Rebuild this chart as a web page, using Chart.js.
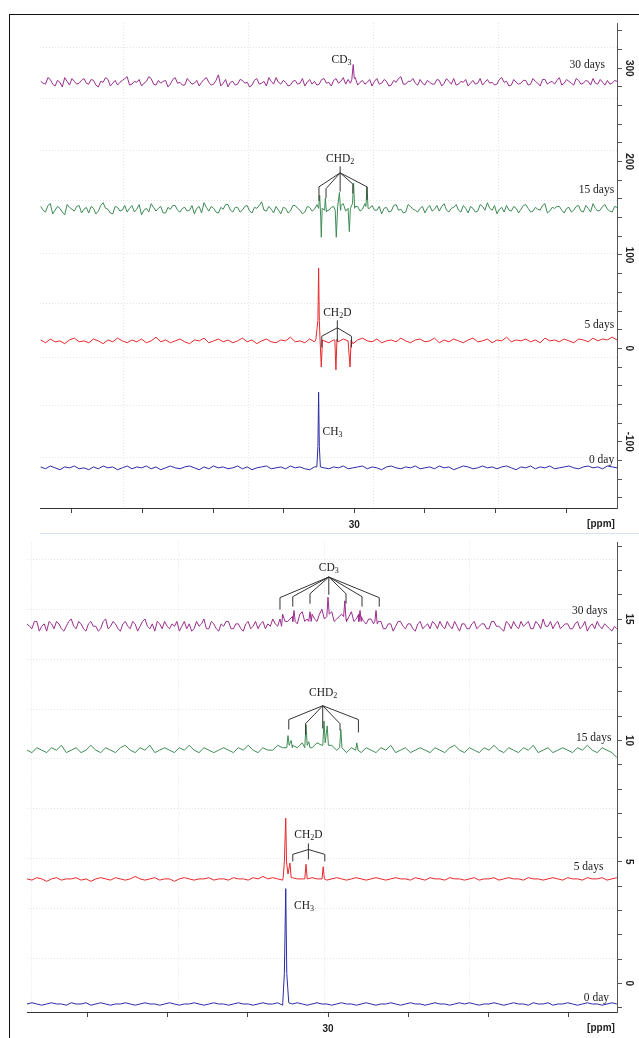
<!DOCTYPE html>
<html lang="en">
<head>
<meta charset="UTF-8" />
<title>13C NMR methyl deuteration</title>
<script src="https://cdn.jsdelivr.net/npm/chart.js"></script>
<style>
  body { margin: 0; background: #fff; }
  #wrap { position: relative; width: 639px; height: 1038px; overflow: hidden; }
  #frame { position: absolute; left: 9px; top: 14px; width: 640px; height: 1030px; border-left: 1.5px solid #111; border-top: 1.5px solid #111; }
  #sep { position: absolute; left: 40px; right: 0; top: 533px; height: 1px; background: #d6e4f2; }
  canvas { position: absolute; left: 0; }
</style>
</head>
<body>
<div id="wrap">
  <div id="frame"></div>
  <div id="sep"></div>
  <canvas id="top" width="639" height="535" style="top:0"></canvas>
  <canvas id="bottom" width="639" height="503" style="top:535px"></canvas>
</div>
<script>
// sampling grid (ppm) of each panel
const TOP_START = 34.44, TOP_STEP = 0.068;
const BOT_START = 33.76, BOT_STEP = 0.0614;

// tick positions
const topXTicks = [27, 28, 29, 30, 31, 32, 33, 34];
const topYTicks = [-160,-140,-120,-100,-80,-60,-40,-20,0,20,40,60,80,100,120,140,160,180,200,220,240,260,280,300,320,340];
const botXTicks = [27, 28, 29, 30, 31, 32, 33];
const botYTicks = [-1,0,1,2,3,4,5,6,7,8,9,10,11,12,13,14,15,16,17,18];

// ---- top panel: baseline noise ----
const topPurple = [
  286,283,288,281,285,290,282,286,284,289,
  283,287,280,285,288,284,282,287,291,283,
  285,281,286,289,282,284,287,283,290,285,
  282,286,284,281,288,285,283,293,284,280,
  286,283,287,285,282,289,284,281,286,290,
  283,285,282,287,284,281,288,286,283,289,
  285,287,284,290,288,286,282,287,285,281,
  289,284,286,282,285,291,283,286,284,288,
  282,285,283,287,284,286,289,283,285,281,
  287,284,282,288,285,283,290,286,282,285,
  284,287,283,286,281,288,285,283,290,284,
  286,282,287,284,286,289,283,285,287,284,
  286];
// half-step samples between the points above
const topPurpleMid = [
  284,290,283,287,280,286,289,283,287,284,
  288,282,286,290,281,287,285,289,282,286,
  288,284,291,283,287,286,280,288,284,282,
  289,283,287,285,290,282,287,281,288,285,
  282,288,284,280,287,283,286,290,283,285,
  287,281,286,283,289,285,283,282,288,284,
  281,289,286,283,284,290,285,283,288,286,
  283,288,281,287,289,283,286,289,282,284,
  287,283,288,281,289,283,282,286,288,284,
  283,289,285,284,282,288,285,281,288,283,
  287,282,289,284,288,283,286,287,282,288,
  284,289,283,287,282,284,288,282,283,287];
const topGreen = [
  152,146,155,148,150,143,151,147,153,149,
  145,150,147,156,149,144,151,148,146,153,
  149,143,150,155,147,152,145,149,153,146,
  151,148,144,152,156,147,150,145,149,154,
  146,151,148,153,145,150,157,147,149,152,
  144,150,147,153,148,146,151,149,145,150,
  148,152,146,155,150,147,152,149,146,153,
  148,144,151,147,154,149,146,152,148,150,
  145,153,149,147,155,146,151,148,153,145,
  150,147,152,156,148,144,151,153,147,150,
  149,154,146,151,148,155,147,150,152,145,
  151,148,153,146,150,155,147,152,149,146,
  151];
const topGreenMid = [
  148,153,144,152,146,154,149,152,145,151,
  152,144,153,150,145,152,147,153,150,146,
  154,148,146,151,150,145,151,153,148,150,
  147,153,150,145,151,152,146,151,154,148,
  151,146,152,147,151,153,148,152,145,148,
  151,145,153,150,144,152,147,154,150,147,
  151,145,153,147,146,152,147,155,150,148,
  152,150,146,153,148,145,154,149,146,152,
  150,147,153,152,148,150,154,146,150,152,
  146,154,148,150,153,149,146,148,152,145,
  153,150,147,149,153,145,151,152,148,150,
  146,152,147,153,146,150,148,154,147,152];
const topRed = [
  9,6,10,7,8,5,9,11,7,8,
  6,10,8,5,9,7,11,8,6,9,
  7,10,6,8,12,7,9,6,8,10,
  7,5,9,8,11,6,8,10,7,9,
  6,8,11,7,9,5,8,10,7,6,
  9,8,12,7,8,6,10,7,9,8,
  6,9,7,10,8,5,9,11,8,7,
  10,6,8,9,7,11,8,6,9,10,
  7,8,11,6,9,7,10,8,6,9,
  11,7,8,10,6,9,8,12,7,9,
  8,10,7,9,6,11,8,9,7,10,
  8,6,10,9,7,11,8,10,9,12,
  9];
const topBlue = [
  -127,-129,-126,-128,-130,-127,-128,-126,-129,-128,
  -130,-127,-129,-126,-128,-127,-130,-128,-126,-129,
  -127,-128,-126,-129,-127,-130,-128,-126,-128,-129,
  -127,-126,-128,-130,-127,-129,-126,-128,-127,-129,
  -128,-126,-129,-127,-130,-128,-127,-126,-129,-128,
  -127,-129,-126,-128,-127,-129,-130,-127,-126,-128,
  -129,-127,-128,-126,-129,-128,-127,-126,-129,-127,
  -128,-130,-127,-126,-128,-129,-127,-128,-126,-129,
  -128,-127,-129,-126,-128,-127,-130,-128,-126,-127,
  -129,-128,-126,-128,-127,-129,-127,-126,-128,-130,
  -127,-128,-126,-129,-127,-128,-126,-129,-128,-127,
  -126,-128,-129,-127,-126,-128,-127,-129,-126,-127,
  -128];

// peaks [ppm, intensity]
const topPurplePeaks = [[[30.035,288],[30.015,304],[30.0,289]]];
const topGreenPeaks = [
  [[30.505,150],[30.49,164],[30.475,140],[30.467,119],[30.455,150],[30.42,148],[30.41,161],[30.395,146]],
  [[30.27,148],[30.255,119],[30.235,152],[30.21,167],[30.195,148]],
  [[30.085,150],[30.07,125],[30.055,150],[30.025,155],[30.01,177],[29.995,150]],
  [[29.835,152],[29.82,173],[29.805,150]]];
const topRedPeaks = [
  [[30.545,9],[30.515,30],[30.505,86],[30.495,30],[30.485,10],[30.467,-20],[30.45,9]],
  [[30.275,9],[30.26,-23],[30.245,10]],
  [[30.075,8],[30.06,-20],[30.045,9]]];
const topBluePeaks = [[[30.53,-127],[30.515,-105],[30.505,-47],[30.495,-105],[30.48,-127]]];

// ---- bottom panel ----
const botPurple = [
  14.8,14.6,14.9,14.7,14.5,14.8,14.9,14.6,14.7,15.0,
  14.6,14.8,14.5,14.9,14.7,14.6,15.0,14.7,14.8,14.5,
  14.9,14.6,14.8,14.7,15.0,14.6,14.5,14.8,14.9,14.6,
  14.7,14.5,14.9,14.8,14.6,14.7,15.0,14.6,14.8,14.5,
  14.7,14.9,14.6,14.8,14.5,14.9,14.7,14.6,14.9,14.8,
  15.0,14.7,15.2,14.9,15.1,14.8,15.3,15.0,15.2,14.9,
  15.4,15.1,15.3,15.0,15.2,14.9,15.3,15.0,15.1,14.8,
  15.0,14.7,14.9,14.6,14.8,14.7,14.9,14.6,14.8,14.5,
  14.9,14.7,14.6,14.8,14.9,14.6,14.7,14.9,14.5,14.8,
  14.6,14.9,14.7,14.8,14.6,14.9,14.7,14.5,14.8,14.9,
  14.6,14.7,14.9,14.6,14.8,15.0,14.7,14.6,14.9,14.7,
  14.8,14.6,14.9,14.7,14.5,14.8,14.9,14.6,14.7,14.5,
  14.6];
const botPurpleMid = [
  14.7,14.9,14.5,14.8,14.9,14.6,14.8,14.5,14.9,14.7,
  14.9,14.6,14.8,14.7,14.5,14.9,14.6,14.9,14.6,14.8,
  14.7,14.9,14.5,14.9,14.7,14.8,14.9,14.6,14.7,14.8,
  14.9,14.7,14.6,14.5,14.9,14.8,14.6,14.9,14.6,14.8,
  14.9,14.6,14.8,14.6,14.8,14.6,14.9,14.8,14.6,14.7,
  14.8,15.1,14.9,15.0,14.8,15.2,14.9,15.1,15.0,15.2,
  15.0,15.2,14.9,15.1,14.8,15.1,14.9,15.2,14.9,15.0,
  14.8,14.9,14.6,14.8,14.5,14.9,14.7,14.8,14.6,14.8,
  14.6,14.8,14.9,14.6,14.7,14.9,14.6,14.7,14.8,14.6,
  14.8,14.6,14.8,14.6,14.9,14.7,14.6,14.9,14.6,14.7,
  14.9,14.8,14.6,14.9,14.6,14.7,14.9,14.8,14.6,14.8,
  14.6,14.8,14.6,14.9,14.7,14.6,14.7,14.8,14.6,14.7];
const botGreen = [
  9.6,9.5,9.7,9.6,9.5,9.7,9.6,9.8,9.5,9.6,
  9.7,9.5,9.6,9.8,9.6,9.5,9.7,9.6,9.5,9.7,
  9.8,9.6,9.5,9.7,9.6,9.8,9.5,9.6,9.7,9.6,
  9.5,9.7,9.6,9.8,9.6,9.5,9.7,9.6,9.5,9.6,
  9.7,9.6,9.5,9.7,9.6,9.8,9.6,9.5,9.7,9.6,
  9.6,9.8,9.7,9.9,9.8,9.7,9.9,9.8,9.7,9.9,
  9.8,9.7,9.8,9.6,9.7,9.5,9.7,9.6,9.5,9.7,
  9.6,9.5,9.7,9.6,9.8,9.5,9.6,9.7,9.5,9.6,
  9.7,9.6,9.5,9.7,9.6,9.5,9.7,9.8,9.6,9.5,
  9.7,9.6,9.5,9.7,9.6,9.8,9.6,9.5,9.7,9.6,
  9.5,9.7,9.6,9.8,9.5,9.6,9.7,9.5,9.6,9.7,
  9.6,9.5,9.7,9.6,9.8,9.6,9.5,9.7,9.6,9.5,
  9.3];
const botRed = [
  4.3,4.25,4.35,4.3,4.2,4.3,4.35,4.25,4.3,4.3,
  4.35,4.25,4.3,4.2,4.3,4.35,4.3,4.25,4.35,4.3,
  4.25,4.3,4.4,4.3,4.25,4.3,4.35,4.25,4.3,4.3,
  4.2,4.3,4.35,4.3,4.25,4.3,4.3,4.35,4.25,4.3,
  4.3,4.25,4.35,4.3,4.3,4.25,4.35,4.3,4.4,4.3,
  4.35,4.3,4.25,4.3,4.35,4.3,4.3,4.25,4.35,4.3,
  4.3,4.25,4.3,4.35,4.3,4.25,4.3,4.35,4.3,4.25,
  4.3,4.35,4.3,4.25,4.3,4.35,4.3,4.3,4.25,4.35,
  4.3,4.25,4.35,4.3,4.3,4.25,4.35,4.3,4.3,4.25,
  4.3,4.35,4.25,4.3,4.3,4.35,4.25,4.3,4.35,4.3,
  4.3,4.25,4.35,4.3,4.3,4.25,4.3,4.35,4.3,4.25,
  4.35,4.3,4.3,4.25,4.35,4.3,4.3,4.35,4.25,4.3,
  4.35];
const botBlue = [
  -0.85,-0.8,-0.85,-0.9,-0.85,-0.8,-0.85,-0.85,-0.9,-0.8,
  -0.85,-0.85,-0.8,-0.9,-0.85,-0.8,-0.85,-0.9,-0.85,-0.85,
  -0.8,-0.85,-0.9,-0.85,-0.8,-0.85,-0.85,-0.9,-0.85,-0.8,
  -0.85,-0.9,-0.85,-0.85,-0.8,-0.85,-0.9,-0.85,-0.8,-0.85,
  -0.85,-0.9,-0.85,-0.8,-0.85,-0.85,-0.9,-0.85,-0.8,-0.85,
  -0.85,-0.8,-0.9,-0.85,-0.85,-0.8,-0.85,-0.9,-0.85,-0.8,
  -0.85,-0.85,-0.9,-0.85,-0.8,-0.85,-0.85,-0.9,-0.85,-0.8,
  -0.85,-0.9,-0.85,-0.85,-0.8,-0.85,-0.9,-0.85,-0.8,-0.85,
  -0.85,-0.9,-0.85,-0.8,-0.85,-0.85,-0.9,-0.85,-0.8,-0.85,
  -0.8,-0.85,-0.9,-0.85,-0.85,-0.8,-0.85,-0.9,-0.85,-0.8,
  -0.85,-0.85,-0.9,-0.8,-0.85,-0.85,-0.8,-0.9,-0.85,-0.85,
  -0.8,-0.85,-0.9,-0.85,-0.8,-0.85,-0.85,-0.9,-0.85,-0.8,
  -0.85];

const botPurplePeaks = [
  [[30.62,14.8],[30.6,15.0],[30.58,14.7]],
  [[30.44,14.9],[30.425,15.35],[30.41,14.9]],
  [[30.24,14.9],[30.225,15.3],[30.21,14.9]],
  [[30.015,15.1],[30.0,15.9],[29.985,15.2]],
  [[29.805,15.1],[29.79,15.75],[29.775,15.0]],
  [[29.615,14.9],[29.6,15.35],[29.585,14.9]],
  [[29.415,14.9],[29.4,15.35],[29.385,14.8]]];
const botGreenPeaks = [
  [[30.515,9.7],[30.5,10.2],[30.485,9.8],[30.46,10.0],[30.445,9.7]],
  [[30.29,9.7],[30.275,10.65],[30.26,9.8],[30.24,9.95],[30.225,9.7]],
  [[30.065,9.8],[30.05,10.8],[30.035,9.9],[30.01,10.6],[29.995,9.8]],
  [[29.855,9.7],[29.84,10.45],[29.825,9.7]],
  [[29.655,9.6],[29.64,9.9],[29.625,9.6]]];
const botRedPeaks = [
  [[30.56,4.35],[30.545,5.0],[30.528,6.8],[30.518,5.0],[30.5,4.5],[30.475,4.95],[30.46,4.35]],
  [[30.29,4.3],[30.275,4.9],[30.26,4.3]],
  [[30.075,4.3],[30.06,4.8],[30.045,4.3]]];
const botBluePeaks = [[[30.565,-0.8],[30.545,0.4],[30.528,3.9],[30.515,0.4],[30.49,-0.8]]];

// labels [text, ppm, intensity, align]  ("_x" = subscript)
const topLabels = [
  ['30 days', 26.45, 303.5, 'right'], ['15 days', 26.32, 169.5, 'right'],
  ['5 days', 26.32, 25, 'right'], ['0 day', 26.32, -120, 'right'],
  ['CD_3', 30.18, 309, 'center'], ['CHD_2', 30.2, 203, 'center'],
  ['CH_2D', 30.24, 38, 'center'], ['CH_3', 30.45, -90, 'left']];
const topBrackets = [
  [[30.2,195],[30.2,168]],
  [[30.2,188],[30.5,173],[30.5,158]], [[30.2,188],[30.4,171],[30.4,161]],
  [[30.2,188],[30.02,176],[30.02,166]], [[30.2,188],[29.82,173],[29.82,159]],
  [[30.24,30],[30.24,7]],
  [[30.24,22],[30.46,13],[30.46,1]], [[30.24,22],[30.04,13],[30.04,1]]];

const botLabels = [
  ['30 days', 26.51, 15.35, 'right'], ['15 days', 26.46, 10.1, 'right'],
  ['5 days', 26.56, 4.8, 'right'], ['0 day', 26.49, -0.6, 'right'],
  ['CD_3', 29.99, 17.1, 'center'], ['CHD_2', 30.06, 11.96, 'center'],
  ['CH_2D', 30.245, 6.12, 'center'], ['CH_3', 30.425, 3.18, 'left']];
const botBrackets = [
  [[29.99,16.73],[30.6,15.88],[30.6,15.39]], [[29.99,16.73],[30.44,15.92],[30.44,15.51]],
  [[29.99,16.73],[30.225,16.04],[30.225,15.63]], [[29.99,16.73],[29.99,16.0]],
  [[29.99,16.73],[29.775,16.04],[29.775,15.63]], [[29.99,16.73],[29.575,15.92],[29.575,15.51]],
  [[29.99,16.73],[29.36,15.88],[29.36,15.51]],
  [[30.066,11.43],[30.49,10.86],[30.49,10.45]], [[30.066,11.43],[30.28,10.69],[30.28,10.24]],
  [[30.066,11.43],[30.066,10.49]],
  [[30.066,11.43],[29.85,10.69],[29.85,10.41]], [[30.066,11.43],[29.62,10.86],[29.62,10.33]],
  [[30.245,5.76],[30.245,5.1]],
  [[30.245,5.51],[30.44,5.31],[30.44,5.02]], [[30.245,5.51],[30.04,5.31],[30.04,5.02]]];

const COLORS = { purple: '#9a2d8e', green: '#3d8c55', red: '#e8282c', blue: '#2b2ba8' };

function series(start, step, noise, clusters, mid) {
  const ranges = clusters.map(c => [Math.min(...c.map(p => p[0])), Math.max(...c.map(p => p[0]))]);
  const inPeak = x => ranges.some(r => x >= r[0] && x <= r[1]);
  const pts = [];
  noise.forEach((v, i) => {
    const x = start - i * step;
    if (!inPeak(x)) pts.push({ x, y: v });
  });
  (mid || []).forEach((v, i) => {
    const x = start - (i + 0.5) * step;
    if (!inPeak(x)) pts.push({ x, y: v });
  });
  clusters.forEach(c => c.forEach(p => pts.push({ x: p[0], y: p[1] })));
  pts.sort((a, b) => b.x - a.x);
  return pts;
}

function drawRich(ctx, text, x, y, align) {
  const segs = [];
  for (let i = 0; i < text.length; i++) {
    if (text[i] === '_') { segs.push({ t: text[i + 1], sub: true }); i++; }
    else if (segs.length && !segs[segs.length - 1].sub) segs[segs.length - 1].t += text[i];
    else segs.push({ t: text[i], sub: false });
  }
  const main = '11.5px "Liberation Serif", "Times New Roman", serif';
  const sub = '8px "Liberation Serif", "Times New Roman", serif';
  let w = 0;
  segs.forEach(s => { ctx.font = s.sub ? sub : main; s.w = ctx.measureText(s.t).width; w += s.w; });
  let cx = align === 'right' ? x - w : align === 'left' ? x : x - w / 2;
  ctx.textAlign = 'left';
  ctx.textBaseline = 'middle';
  segs.forEach(s => { ctx.font = s.sub ? sub : main; ctx.fillText(s.t, cx, s.sub ? y + 3 : y); cx += s.w; });
}

function notesPlugin(labels, brackets, gridX, gridY) {
  return {
    id: 'notes',
    beforeDatasetsDraw(chart) {
      const { ctx, chartArea: a } = chart;
      ctx.save();
      ctx.strokeStyle = '#e4e4e4';
      ctx.lineWidth = 1;
      ctx.setLineDash([1, 2]);
      gridX.forEach(f => { const x = Math.round(a.left + f * (a.right - a.left)) + 0.5; ctx.beginPath(); ctx.moveTo(x, a.top); ctx.lineTo(x, a.bottom); ctx.stroke(); });
      gridY.forEach(f => { const y = Math.round(a.top + f * (a.bottom - a.top)) + 0.5; ctx.beginPath(); ctx.moveTo(a.left, y); ctx.lineTo(a.right, y); ctx.stroke(); });
      ctx.restore();
    },
    afterDatasetsDraw(chart) {
      const { ctx, scales: { x, y }, chartArea: a } = chart;
      ctx.save();
      ctx.strokeStyle = '#333';
      ctx.lineWidth = 1;
      brackets.forEach(line => {
        ctx.beginPath();
        line.forEach((p, i) => {
          const px = x.getPixelForValue(p[0]), py = y.getPixelForValue(p[1]);
          if (i === 0) ctx.moveTo(px, py); else ctx.lineTo(px, py);
        });
        ctx.stroke();
      });
      ctx.fillStyle = '#222';
      labels.forEach(l => drawRich(ctx, l[0], x.getPixelForValue(l[1]), y.getPixelForValue(l[2]), l[3]));
      ctx.font = 'bold 10px "Liberation Sans", Arial, sans-serif';
      ctx.textAlign = 'center';
      ctx.textBaseline = 'top';
      ctx.fillStyle = '#222';
      ctx.fillText('[ppm]', a.right - 16, a.bottom + 11);
      ctx.restore();
    }
  };
}

function makeChart(id, cfg) {
  const ds = cfg.traces.map(t => ({
    data: t.data, borderColor: t.color, borderWidth: 1, pointRadius: 0, tension: 0, fill: false
  }));
  return new Chart(document.getElementById(id), {
    type: 'line',
    data: { datasets: ds },
    options: {
      responsive: false,
      animation: false,
      layout: { padding: { left: cfg.padLeft, top: cfg.padTop, right: 0, bottom: 0 } },
      plugins: { legend: { display: false }, tooltip: { enabled: false } },
      scales: {
        x: {
          type: 'linear', reverse: true, bounds: 'data', min: cfg.xMin, max: cfg.xMax,
          afterBuildTicks: s => { s.ticks = cfg.xTicks.map(v => ({ value: v })); },
          ticks: {
            autoSkip: false, maxRotation: 0, padding: 6,
            color: '#222', font: { family: '"Liberation Sans", Arial, sans-serif', size: 10, weight: 'bold' },
            callback: v => (v === 30 ? '30' : '')
          },
          grid: { display: true, drawOnChartArea: false, drawTicks: true, tickLength: 5, color: '#444' },
          border: { display: true, color: '#333', width: 1 },
          afterFit: s => { s.height = cfg.xAxisH; }
        },
        y: {
          type: 'linear', position: 'right', bounds: 'data', min: cfg.yMin, max: cfg.yMax,
          afterBuildTicks: s => { s.ticks = cfg.yTicks.map(v => ({ value: v })); },
          ticks: {
            autoSkip: false, minRotation: -90, maxRotation: -90, crossAlign: 'center', padding: cfg.yPad,
            color: '#222', font: { family: '"Liberation Sans", Arial, sans-serif', size: 10, weight: 'bold' },
            callback: v => (v % cfg.yLabelEvery === 0 ? String(v) : '')
          },
          grid: { display: true, drawOnChartArea: false, drawTicks: true, tickLength: 5, color: '#555' },
          border: { display: true, color: '#555', width: 1 },
          afterFit: s => { s.width = 22; }
        }
      }
    },
    plugins: [notesPlugin(cfg.labels, cfg.brackets, cfg.gridX, cfg.gridY)]
  });
}

makeChart('top', {
  padLeft: 40, padTop: 23, xAxisH: 27,
  xMin: 26.28, xMax: 34.45, xTicks: topXTicks,
  yMin: -171, yMax: 348.5, yTicks: topYTicks, yLabelEvery: 100, yPad: -3,
  labels: topLabels, brackets: topBrackets,
  gridX: [0.144, 0.361, 0.577, 0.794],
  gridY: [0.049, 0.155, 0.262, 0.365, 0.474, 0.577, 0.689, 0.788, 0.895],
  traces: [
    { color: COLORS.purple, data: series(TOP_START, TOP_STEP, topPurple, topPurplePeaks, topPurpleMid) },
    { color: COLORS.green, data: series(TOP_START, TOP_STEP, topGreen, topGreenPeaks, topGreenMid) },
    { color: COLORS.red, data: series(TOP_START, TOP_STEP, topRed, topRedPeaks) },
    { color: COLORS.blue, data: series(TOP_START, TOP_STEP, topBlue, topBluePeaks) }
  ]
});

makeChart('bottom', {
  padLeft: 27, padTop: 5, xAxisH: 26,
  xMin: 26.39, xMax: 33.76, xTicks: botXTicks,
  yMin: -1.18, yMax: 18.15, yTicks: botYTicks, yLabelEvery: 5, yPad: 1.5,
  labels: botLabels, brackets: botBrackets,
  gridX: [0.007, 0.256, 0.503, 0.749],
  gridY: [0.036, 0.142, 0.248, 0.354, 0.46, 0.566, 0.672, 0.778, 0.884],
  traces: [
    { color: COLORS.purple, data: series(BOT_START, BOT_STEP, botPurple, botPurplePeaks, botPurpleMid) },
    { color: COLORS.green, data: series(BOT_START, BOT_STEP, botGreen, botGreenPeaks) },
    { color: COLORS.red, data: series(BOT_START, BOT_STEP, botRed, botRedPeaks) },
    { color: COLORS.blue, data: series(BOT_START, BOT_STEP, botBlue, botBluePeaks) }
  ]
});
</script>
</body>
</html>
